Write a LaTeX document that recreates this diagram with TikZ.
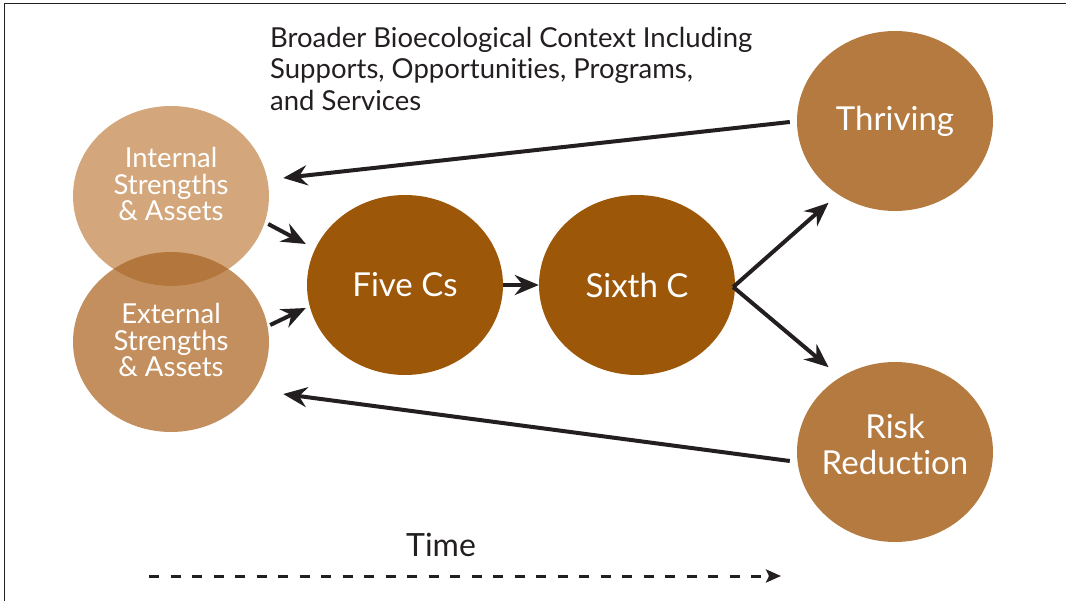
\documentclass[tikz,border=0pt]{standalone}
\usepackage{fontspec}
\setmainfont[Ligatures=NoCommon]{Lato}
\usetikzlibrary{shapes.geometric,arrows.meta,calc}
\definecolor{cint}{HTML}{D3A77B}
\definecolor{cext}{HTML}{C48F5E}
\definecolor{cover}{HTML}{B3763C}
\definecolor{cdark}{HTML}{9C5709}
\definecolor{cout}{HTML}{B47A3F}
\definecolor{ink}{HTML}{231F20}
\begin{document}
\begin{tikzpicture}[x=1pt,y=-1pt,
  blob/.style={ellipse, minimum width=196pt, minimum height=180pt, inner sep=0pt, text=white, align=center},
  lbl/.style={text=white, align=center, inner sep=0pt},
  smalltxt/.style={font=\fontsize{27.5}{26.8}\selectfont},
  bigtxt/.style={font=\fontsize{33}{36}\selectfont},
  arr/.style={line width=4pt, draw=ink, -{Stealth[length=24pt,width=20pt,inset=8pt]}},
  timearr/.style={line width=3pt, draw=ink, dash pattern=on 10pt off 11.5pt, -{Stealth[length=15pt,width=13pt,inset=3pt]}},
  frame/.style={line width=1.5pt, draw=ink}]
\useasboundingbox (0,0) rectangle (1066,601);
\draw[frame] (4.5,601) -- (4.5,3.5) -- (1066,3.5);

\node[anchor=north west, align=left, text=ink, inner sep=0pt, font=\fontsize{27.5}{31.5}\selectfont] (ctx) at (270,27)
  {Broader Bioecological Context Including\\Supports, Opportunities, Programs,\\and Services};

\node[blob, fill=cext] (ext) at (171,342) {};
\node[blob, fill=cint] (int) at (171,196) {};
\begin{scope}
  \clip (171,196) ellipse [x radius=98, y radius=90];
  \fill[cover] (171,342) ellipse [x radius=98, y radius=90];
\end{scope}
\node[lbl, smalltxt] (intl) at ([yshift=12]int.center) {Internal\\Strengths\\\& Assets};
\node[lbl, smalltxt] (extl) at ([yshift=2]ext.center) {External\\Strengths\\\& Assets};

\node[blob, fill=cdark, bigtxt] (five) at (405,285) {Five Cs};
\node[blob, fill=cdark, bigtxt] (six) at (637,285) {Sixth C};
\node[blob, fill=cout, bigtxt] (thr) at (895,121) {Thriving};
\node[blob, fill=cout] (risk) at (895,452) {};
\node[lbl, bigtxt] (riskl) at ([yshift=8]risk.center) {Risk\\Reduction};

\draw[arr] ([shift={(-7,1)}]thr.west) -- ([shift={(14,-18)}]int.east);
\draw[arr] ([shift={(-7,9)}]risk.west) -- ([shift={(14,52)}]ext.east);
\draw[arr] ([shift={(-1,28)}]int.east) -- ([shift={(-1,-41)}]five.west);
\draw[arr] ([shift={(1,-17)}]ext.east) -- ([shift={(-1,23)}]five.west);
\draw[arr] (five.east) -- (six.west);
\draw[arr] ([shift={(-2,2)}]six.east) -- ([shift={(3,18)}]thr.south west);
\draw[arr] ([shift={(-2,2)}]six.east) -- ([shift={(3,-21)}]risk.north west);

\node[text=ink, font=\fontsize{32}{36}\selectfont, inner sep=0pt] (time) at (441,545) {Time};
\coordinate (t0) at (149,576);
\coordinate (t1) at (781,576);
\draw[timearr] (t0) -- (t1);
\end{tikzpicture}
\end{document}
